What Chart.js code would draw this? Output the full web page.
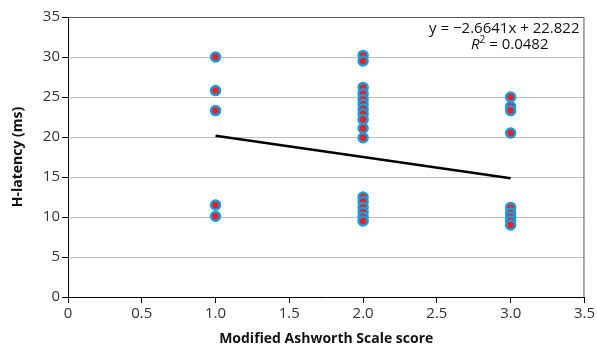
<!DOCTYPE html>
<html>
<head>
<meta charset="utf-8">
<script src="https://cdn.jsdelivr.net/npm/chart.js@4.4.0/dist/chart.umd.min.js"></script>
<style>
  html, body { margin: 0; padding: 0; background: #fff; }
  canvas { display: block; }
</style>
</head>
<body>
<canvas id="myChart" width="597" height="349"></canvas>
<script>
// Modified Ashworth score vs H-latency
const scoreX = [1, 1, 1, 1, 1,
    2, 2, 2, 2, 2, 2, 2, 2, 2, 2, 2, 2, 2, 2, 2, 2, 2,
    3, 3, 3, 3, 3, 3, 3, 3, 3];
const latencyY = [30.0, 25.8, 23.3, 11.5, 10.1,
    30.2, 29.5, 26.2, 25.4, 24.7, 24.1, 23.5, 22.9, 22.2, 21.1, 19.9, 12.5, 11.9, 11.2, 10.6, 10.0, 9.5,
    25.0, 23.8, 23.3, 20.5, 11.2, 10.5, 10.0, 9.5, 9.0];
const trendX = [1, 3];
const trendY = [20.16, 14.83];
const xTicks = [0, 0.5, 1, 1.5, 2, 2.5, 3, 3.5];
const yTicks = [0, 5, 10, 15, 20, 25, 30, 35];
const equationText = 'y = \u22122.6641x + 22.822';
const r2Value = '0.0482';

const fontFamily = '"Open Sans", "Noto Sans", sans-serif';

const framePlugin = {
    id: 'frame',
    beforeDatasetsDraw(chart) {
        const {ctx, chartArea: a} = chart;
        ctx.save();
        ctx.strokeStyle = '#555';
        ctx.lineWidth = 1;
        ctx.beginPath();
        ctx.moveTo(a.left, a.top + 0.5);
        ctx.lineTo(a.right - 0.5, a.top + 0.5);
        ctx.lineTo(a.right - 0.5, a.bottom);
        ctx.stroke();
        ctx.restore();
    },
    afterDraw(chart) {
        const {ctx, chartArea: a} = chart;
        ctx.save();
        ctx.fillStyle = '#111';
        ctx.font = '15px ' + fontFamily;
        ctx.textBaseline = 'middle';
        ctx.textAlign = 'right';
        ctx.fillText(equationText, a.right - 5, a.top + 12);
        // R² line
        const rest = ' = ' + r2Value;
        ctx.font = '15px ' + fontFamily;
        const wRest = ctx.measureText(rest).width;
        ctx.font = 'italic 15px ' + fontFamily;
        const wR = ctx.measureText('R').width;
        ctx.font = '10px ' + fontFamily;
        const w2 = ctx.measureText('2').width;
        const total = wR + w2 + wRest;
        let x = a.right - 36 - total;
        const y = a.top + 28;
        ctx.textAlign = 'left';
        ctx.font = 'italic 15px ' + fontFamily;
        ctx.fillText('R', x, y);
        x += wR;
        ctx.font = '10px ' + fontFamily;
        ctx.fillText('2', x, y - 5);
        x += w2;
        ctx.font = '15px ' + fontFamily;
        ctx.fillText(rest, x, y);
        ctx.restore();
    }
};

new Chart('myChart', {
    type: 'scatter',
    data: {
        datasets: [{
            label: 'points',
            data: scoreX.map((x, i) => ({x: x, y: latencyY[i]})),
            backgroundColor: '#e8202a',
            borderColor: '#1d9ad8',
            borderWidth: 2.5,
            pointRadius: 4.5,
            order: 2
        }, {
            label: 'trend',
            data: trendX.map((x, i) => ({x: x, y: trendY[i]})),
            showLine: true,
            borderColor: '#000',
            borderWidth: 2.5,
            pointRadius: 0,
            order: 1
        }]
    },
    options: {
        responsive: false,
        animation: false,
        layout: {padding: {top: 17, right: 9, left: 10, bottom: 0}},
        plugins: {legend: {display: false}, tooltip: {enabled: false}},
        scales: {
            x: {
                type: 'linear',
                min: 0, max: 3.5,
                afterBuildTicks: s => { s.ticks = xTicks.map(v => ({value: v})); },
                afterFit: s => { s.height = 52; },
                border: {color: '#000', width: 1},
                grid: {drawOnChartArea: false, tickLength: 6, tickColor: '#000'},
                ticks: {
                    color: '#333', padding: 2, maxRotation: 0,
                    font: {family: fontFamily, size: 15},
                    callback: v => v === 0 ? '0' : v.toFixed(1)
                },
                title: {
                    display: true, text: 'Modified Ashworth Scale score', color: '#111',
                    padding: {top: 0, bottom: 2},
                    font: {family: fontFamily, size: 14, weight: 'bold'}
                }
            },
            y: {
                type: 'linear',
                min: 0, max: 35,
                afterBuildTicks: s => { s.ticks = yTicks.map(v => ({value: v})); },
                afterFit: s => { s.width = 58; },
                border: {color: '#000', width: 1},
                grid: {color: '#bdbdbd', tickLength: 6, tickColor: '#000'},
                ticks: {
                    color: '#333', padding: 2,
                    font: {family: fontFamily, size: 15}
                },
                title: {
                    display: true, text: 'H-latency (ms)', color: '#111',
                    padding: {top: 0, bottom: 4},
                    font: {family: fontFamily, size: 14, weight: 'bold'}
                }
            }
        }
    },
    plugins: [framePlugin]
});
</script>
</body>
</html>
